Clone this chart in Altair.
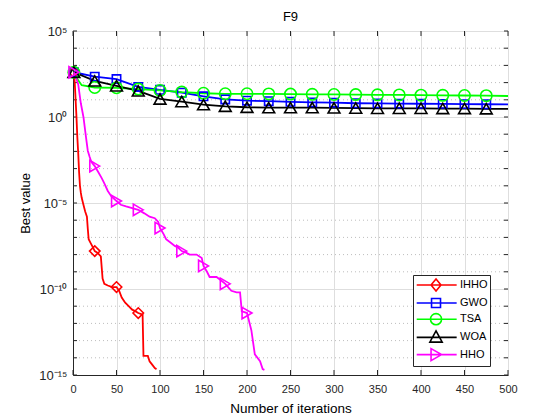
import altair as alt
import pandas as pd

names = ["IHHO", "GWO", "TSA", "WOA", "HHO"]
colors = ["#FF0000", "#0000FF", "#00FF00", "#000000", "#FF00FF"]

ihho_iter = [1, 2, 3, 4, 5, 6, 7, 8, 9, 10, 12, 14, 16, 17, 18, 20, 22, 25, 28, 32, 34, 36, 40, 45,
             50, 53, 56, 60, 64, 68, 72, 75, 80, 81, 86, 88, 91, 94, 96]
ihho_val = [4.0e2, 1.0e2, 1.0e1, 1.0e0, 6.3e-2, 7.9e-3, 6.3e-4, 1.0e-4, 4.0e-5, 2.0e-5, 7.9e-6, 3.2e-6,
            1.6e-6, 3.2e-7, 7.9e-8, 5.0e-8, 3.2e-8, 1.6e-8, 1.3e-8, 7.9e-9, 4.0e-10, 2.0e-10, 1.6e-10,
            1.3e-10, 1.3e-10, 7.9e-11, 3.2e-11, 1.6e-11, 1.0e-11, 6.3e-12, 5.0e-12, 4.0e-12, 3.2e-12,
            1.3e-14, 1.3e-14, 6.3e-15, 4.0e-15, 2.5e-15, 2.2e-15]

hho_iter = [1, 4, 6, 9, 12, 15, 17, 19, 21, 25, 29, 33, 36, 40, 44, 50, 55, 61, 68, 75, 82, 88, 94, 98,
            100, 104, 107, 112, 117, 121, 125, 130, 134, 142, 148, 150, 154, 157, 165, 170, 175, 182,
            188, 192, 194, 197, 200, 205, 209, 215, 218, 220]
hho_val = [4.0e2, 1.6e2, 7.9e1, 6.3e0, 1.0e0, 6.3e-2, 1.1e-2, 5.0e-3, 2.5e-3, 1.4e-3, 6.3e-4, 2.8e-4,
           1.4e-4, 5.0e-5, 2.5e-5, 1.3e-5, 7.9e-6, 6.3e-6, 5.0e-6, 4.0e-6, 2.5e-6, 1.6e-6, 1.3e-6,
           7.9e-7, 3.5e-7, 1.6e-7, 7.9e-8, 5.0e-8, 3.2e-8, 2.5e-8, 1.6e-8, 1.3e-8, 1.0e-8, 1.0e-8,
           6.3e-9, 2.2e-9, 1.0e-9, 5.0e-10, 5.0e-10, 3.2e-10, 2.0e-10, 7.9e-11, 6.3e-11, 6.3e-11,
           5.0e-12, 4.5e-12, 4.0e-12, 4.0e-13, 1.6e-14, 6.3e-15, 2.2e-15, 2.0e-15]

gwo_iter = [1, 25, 50, 75, 100, 125, 150, 175, 200, 225, 250, 275, 300, 325, 350, 375, 400, 425, 450, 475, 500]
gwo_val = [4.0e2, 2.2e2, 1.6e2, 5.6e1, 3.8e1, 2.6e1, 1.6e1, 1.05e1, 8.9, 8.3, 7.6, 7.1, 6.8, 6.3, 6.2,
           6.0, 5.9, 5.8, 5.6, 5.5, 5.4]

tsa_iter = [1, 5, 10, 25, 50, 75, 100, 125, 150, 175, 200, 225, 250, 275, 300, 325, 350, 375, 400,
            425, 450, 475, 500]
tsa_val = [4.0e2, 1.6e2, 7.1e1, 5.2e1, 5.0e1, 4.2e1, 3.5e1, 2.8e1, 2.4e1, 2.24e1, 2.24e1, 2.19e1,
           2.14e1, 2.09e1, 2.04e1, 2.0e1, 1.95e1, 1.91e1, 1.86e1, 1.82e1, 1.78e1, 1.74e1, 1.66e1]

woa_iter = [1, 25, 50, 75, 100, 125, 150, 175, 200, 225, 250, 275, 300, 325, 350, 375, 400, 425, 450, 475, 500]
woa_val = [4.0e2, 1.26e2, 6.5e1, 3.3e1, 1.12e1, 7.9, 5.2, 4.2, 3.7, 3.5, 3.5, 3.5, 3.4, 3.3, 3.2, 3.2,
           3.2, 3.1, 3.1, 3.0, 3.0]

marker_iters = [1] + list(range(25, 500, 25))
x_ticks = list(range(0, 501, 50))
y_major = [1e-15, 1e-10, 1e-5, 1e0, 1e5]
y_minor = [1e-14, 1e-13, 1e-12, 1e-11, 1e-9, 1e-8, 1e-7, 1e-6, 1e-4, 1e-3, 1e-2, 1e-1,
           1e1, 1e2, 1e3, 1e4]

series = [("IHHO", ihho_iter, ihho_val), ("GWO", gwo_iter, gwo_val), ("TSA", tsa_iter, tsa_val),
          ("WOA", woa_iter, woa_val), ("HHO", hho_iter, hho_val)]

chart_shapes = {"IHHO": "diamond", "GWO": "square", "TSA": "circle",
                "WOA": "triangle-up", "HHO": "triangle-right"}
chart_sizes = {"IHHO": 110, "GWO": 70, "TSA": 130, "WOA": 140, "HHO": 130}
color_of = dict(zip(names, colors))

rows = []
for k, (nm, its, vals) in enumerate(series):
    for i, v in zip(its, vals):
        rows.append({"algo": nm, "k": k, "iter": i, "value": v})
df = pd.DataFrame(rows)
df["col"] = df["algo"].map(color_of)
df["mk"] = df["algo"].map(chart_shapes)
df["sz"] = df["algo"].map(chart_sizes)
mk = df[df["iter"].isin(marker_iters)]

# legend symbols: line with the marker on it (units of 7 px)
line = "M-0.9,0H4.81"
legend_paths = [
    line + "M1.86,-0.86L2.57,0L1.86,0.86L1.15,0Z",
    line + "M1.22,-0.64H2.5V0.64H1.22Z",
    line + "M1.07,0A0.79,0.79,0,1,0,2.65,0A0.79,0.79,0,1,0,1.07,0Z",
    line + "M1.86,-0.92L2.74,0.68L0.98,0.68Z",
    line + "M1.15,-0.86L2.65,0L1.15,0.86Z",
]

FONT = "Liberation Sans"
TXT = "#262626"
xscale = alt.Scale(domain=[0, 500], nice=False)
yscale = alt.Scale(type="log", domain=[1e-15, 1e5], nice=False)

e = "round(log(datum.value)/LN10)"
label_expr = (f"{e} == 5 ? '10⁵' : {e} == 0 ? '10⁰' : {e} == -5 ? '10⁻⁵' : "
              f"{e} == -10 ? '10⁻¹⁰' : '10⁻¹⁵'")

xaxis = alt.Axis(values=x_ticks, title="Number of iterations", grid=True, gridColor="#dedede",
                 ticks=False, labelPadding=8, titlePadding=7, labelFontSize=11, titleFontSize=13.5,
                 labelColor=TXT, titleColor="#000000", labelFont=FONT, titleFont=FONT,
                 titleFontWeight="normal", domainColor=TXT, labelFlush=False)
yaxis = alt.Axis(values=y_major, title="Best value", grid=True, gridColor="#dedede", ticks=False,
                 labelExpr=label_expr, labelPadding=6, titlePadding=6, labelFontSize=13,
                 titleFontSize=13, labelColor=TXT, titleColor="#000000", labelFont=FONT,
                 titleFont=FONT, titleFontWeight="normal", domainColor=TXT)

X = alt.X("iter:Q", scale=xscale, axis=xaxis)
Y = alt.Y("value:Q", scale=yscale, axis=yaxis)

minor = alt.Chart(pd.DataFrame({"value": y_minor})).mark_rule(
    color="#bdbdbd", strokeDash=[1, 3], strokeWidth=1
).encode(y=Y)

# inward ticks on all four sides
xt = pd.DataFrame({"iter": x_ticks})
yt = pd.DataFrame({"value": y_major + y_minor})
tick_bottom = alt.Chart(xt).mark_rule(color=TXT).encode(x=X, y=alt.value(344), y2=alt.value(339))
tick_top = alt.Chart(xt).mark_rule(color=TXT).encode(x=X, y=alt.value(0), y2=alt.value(5))
tick_left = alt.Chart(yt).mark_rule(color=TXT).encode(y=Y, x=alt.value(0), x2=alt.value(4))
tick_right = alt.Chart(yt).mark_rule(color=TXT).encode(y=Y, x=alt.value(435), x2=alt.value(431))

lines = alt.Chart(df).mark_line(strokeWidth=1.8, clip=True).encode(
    x=X, y=Y,
    color=alt.Color("col:N", scale=None),
    detail="algo:N",
    order="iter:Q",
)

markers = alt.Chart(mk).mark_point(filled=False, strokeWidth=1.6, opacity=1).encode(
    x=X, y=Y,
    color=alt.Color("col:N", scale=None),
    shape=alt.Shape("mk:N", scale=None),
    size=alt.Size("sz:Q", scale=None),
)

nb = "\u00a0" * 5
leg = alt.Legend(title=None, orient="none", legendX=340, legendY=244, symbolSize=196,
                 symbolStrokeWidth=1.6, labelOffset=29, labelFontSize=11, labelFont=FONT,
                 labelColor="#000000", padding=2, rowPadding=-0.8, strokeColor=TXT,
                 fillColor="white", cornerRadius=0, symbolFillColor="transparent",
                 labelExpr=f"datum.label + '{nb}'")

legend_layer = alt.Chart(df).transform_filter("false").mark_point(filled=False, strokeWidth=1.6).encode(
    x=X, y=Y,
    color=alt.Color("algo:N", scale=alt.Scale(domain=names, range=colors), legend=leg),
    shape=alt.Shape("algo:N", scale=alt.Scale(domain=names, range=legend_paths), legend=leg),
)

chart = alt.layer(minor, tick_bottom, tick_top, tick_left, tick_right,
                  lines, markers, legend_layer).properties(
    width=435, height=344,
    title=alt.TitleParams("F9", fontSize=13, fontWeight="normal", font=FONT, color="#000000", offset=1),
    autosize=alt.AutoSizeParams(type="none"),
    padding={"left": 65, "top": 23, "right": 30, "bottom": 45},
).configure_view(stroke=TXT, strokeWidth=1).configure(background="white")

chart.save("out.html", embed_options={"renderer": "svg", "actions": False})
